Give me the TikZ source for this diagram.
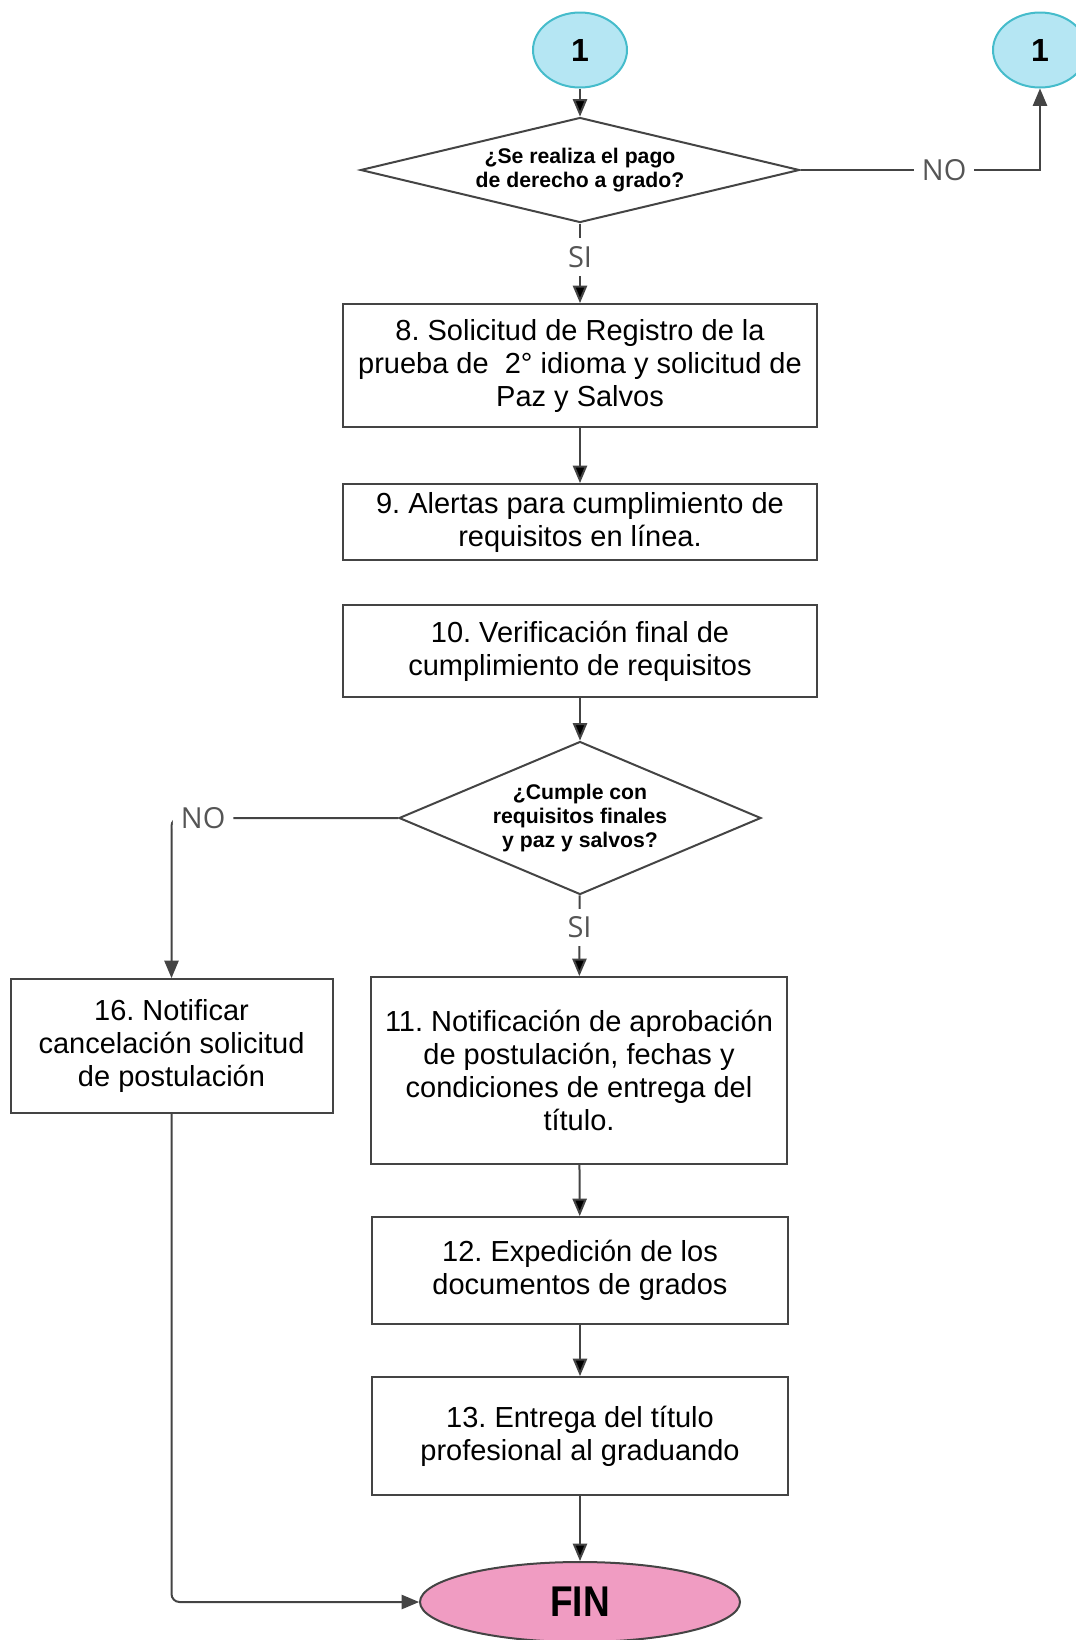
\documentclass[tikz,border=0pt]{standalone}
\usepackage{fontspec}
\setmainfont{Liberation Sans}
\newfontfamily\labelfont{Open Sans}
\newfontfamily\narrowfont[FakeStretch=0.86]{Liberation Sans}
\usepackage{tikz}
\usetikzlibrary{arrows,%
                shapes.geometric}
\definecolor{linegray}{HTML}{444444}
\definecolor{labelgray}{HTML}{555555}
\definecolor{conncyan}{HTML}{B5E6F3}
\definecolor{connborder}{HTML}{45BCCB}
\definecolor{finpink}{HTML}{F09CC2}
\frenchspacing

\begin{document}
\begin{tikzpicture}[x=0.5pt, y=-0.5pt, >=triangle 45, line width=1pt,
                    main node/.style={draw=linegray,rectangle,align=center,inner sep=2pt,font=\fontsize{14.5}{16.5}\selectfont},
                    decision/.style={draw=linegray,diamond,align=center,inner sep=0pt,font=\bfseries\fontsize{10.6}{12}\selectfont},
                    connector/.style={draw=connborder,fill=conncyan,ellipse,minimum width=47pt,minimum height=37.5pt,font=\bfseries\fontsize{16}{18}\selectfont},
                    end node/.style={draw=linegray,fill=finpink,ellipse,minimum width=160pt,minimum height=40pt,font=\narrowfont\bfseries\fontsize{21.5}{24}\selectfont},
                    answer/.style={fill=white,inner sep=4pt,text=labelgray,font=\labelfont\fontsize{14.5}{16}\selectfont}]

  \useasboundingbox (0,0) rectangle (1076,1640);

  \node[connector] (c1) at (580,50) {1};
  \node[connector] (c2) at (1040,50) {1};
  \node[decision, minimum width=219.5pt, minimum height=52.5pt, aspect=4.2] (d1) at (580,170)
       {¿Se realiza el pago\\de derecho a grado?};
  \node[main node, minimum width=237pt, minimum height=61.5pt] (8) at (580,365.5)
       {8. Solicitud de Registro de la\\prueba de~ 2° idioma y solicitud de\\Paz y Salvos};
  \node[main node, minimum width=237pt, minimum height=38pt] (9) at (580,522)
       {9. Alertas para cumplimiento de\\requisitos en línea.};
  \node[main node, minimum width=237pt, minimum height=46pt] (10) at (580,651)
       {10. Verificación final de\\cumplimiento de requisitos};
  \node[decision, minimum width=181pt, minimum height=76.5pt, aspect=2.4] (d2) at (580,818)
       {¿Cumple con\\requisitos finales\\y paz y salvos?};
  \node[main node, minimum width=161pt, minimum height=67pt] (16) at (171.5,1046)
       {16. Notificar\\cancelación solicitud\\de postulación};
  \node[main node, minimum width=208pt, minimum height=93.5pt] (11) at (579,1070.5)
       {11. Notificación de aprobación\\de postulación, fechas y\\condiciones de entrega del\\título.};
  \node[main node, minimum width=208pt, minimum height=53.5pt] (12) at (580,1270.5)
       {12. Expedición de los\\documentos de grados};
  \node[main node, minimum width=208pt, minimum height=59pt] (13) at (580,1436)
       {13. Entrega del título\\profesional al graduando};
  \node[end node] (fin) at (580,1602) {FIN};

  \path[->, draw=linegray]
    (c1) edge (d1)
    (d1) edge node[answer, pos=0.42] {SI} (8)
    (8)  edge (9)
    (10) edge (d2)
    (d2) edge node[answer, pos=0.4] {SI} (11)
    (11) edge (12)
    (12) edge (13)
    (13) edge (fin);

  \draw[->, linegray] (d1.east) -| node[answer, pos=0.3] {NO} (c2.south);
  \draw[->, linegray, rounded corners=4pt] (d2.west) -| node[answer, pos=0.43] {NO} (16.north);
  \draw[->, linegray, rounded corners=4pt] (16.south) |- (fin.west);
\end{tikzpicture}
\end{document}
